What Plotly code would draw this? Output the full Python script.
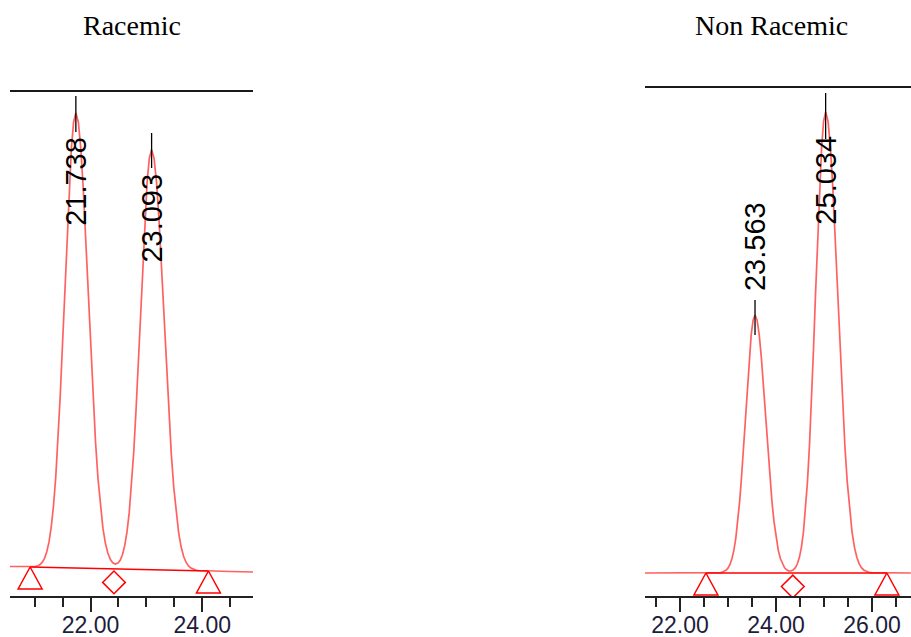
import plotly.graph_objects as go

W, H = 911, 637

# ---------------- data: Racemic ----------------
rac_t = [20.56, 20.75, 20.95, 21.018, 21.058, 21.098, 21.138, 21.178, 21.218, 21.258,
         21.298, 21.338, 21.378, 21.418, 21.458, 21.498, 21.538, 21.578, 21.618, 21.658,
         21.698, 21.738, 21.782, 21.826, 21.870, 21.914, 21.958, 22.002, 22.046, 22.090,
         22.134, 22.178, 22.222, 22.266, 22.310, 22.354, 22.398, 22.442, 22.493, 22.533,
         22.573, 22.613, 22.653, 22.693, 22.733, 22.773, 22.813, 22.853, 22.893, 22.933,
         22.973, 23.013, 23.053, 23.093, 23.137, 23.181, 23.225, 23.269, 23.313, 23.357,
         23.401, 23.445, 23.489, 23.533, 23.577, 23.621, 23.665, 23.709, 23.753, 23.797,
         23.841, 23.885, 23.930, 24.110, 24.500, 24.910]
rac_sig = [1.5, 1.3, 1.0, 1.6, 2.3, 3.5, 5.8, 9.7, 16.2, 26.1,
           41.0, 62.0, 90.5, 127.0, 171.5, 222.0, 276.0, 330.0, 380.0, 420.0,
           446.0, 455.0, 446.0, 420.0, 380.0, 329.8, 275.7, 221.3, 170.2, 126.0,
           89.5, 61.0, 39.8, 24.9, 15.0, 8.7, 5.2, 3.9, 5.0, 8.0,
           13.5, 22.6, 36.1, 55.6, 82.0, 115.5, 156.2, 203.1, 253.3, 303.4,
           349.2, 386.1, 410.0, 418.3, 409.8, 385.9, 348.8, 303.0, 252.7, 202.4,
           155.4, 114.6, 81.0, 54.5, 35.0, 21.2, 11.8, 5.8, 2.1, -0.1,
           -1.4, -2.1, -2.5, -3.0, -3.5, -4.0]
rac_peak_rt = [21.738, 23.093]
rac_peak_labels = ["21.738", "23.093"]
rac_tick_top = [472, 435]
rac_tick_bot = [436, 400]
rac_label_y = [387, 350]
rac_base_t = [20.92, 24.11]      # peak start / end markers
rac_base_y = [1.0, -3.0]
rac_valley_t = [22.42]           # drop line marker
rac_valley_y = [-0.9]

# ---------------- data: Non Racemic ----------------
non_t = [21.27, 22.54, 22.843, 22.883, 22.923, 22.963, 23.003, 23.043, 23.083, 23.123,
         23.163, 23.203, 23.243, 23.283, 23.323, 23.363, 23.403, 23.443, 23.483, 23.523,
         23.563, 23.607, 23.651, 23.695, 23.739, 23.783, 23.827, 23.871, 23.915, 23.959,
         24.003, 24.047, 24.091, 24.135, 24.179, 24.223, 24.267, 24.311, 24.355, 24.404,
         24.446, 24.488, 24.530, 24.572, 24.614, 24.656, 24.698, 24.740, 24.782, 24.824,
         24.866, 24.908, 24.950, 24.992, 25.034, 25.084, 25.134, 25.184, 25.234, 25.284,
         25.334, 25.384, 25.434, 25.484, 25.534, 25.584, 25.634, 25.684, 25.734, 25.784,
         25.834, 25.884, 25.934, 25.984, 26.31, 26.81]
non_sig = [0.0, 0.0, 0.4, 0.8, 1.5, 2.9, 5.1, 8.8, 14.5, 22.9,
           34.9, 51.1, 71.7, 96.8, 125.6, 156.5, 187.3, 215.4, 238.1, 252.8,
           258.0, 252.8, 238.1, 215.4, 187.3, 156.5, 125.6, 96.8, 71.7, 51.1,
           34.9, 22.9, 14.5, 8.8, 5.2, 3.2, 2.1, 2.0, 2.9, 5.3,
           9.2, 15.7, 25.9, 41.0, 62.4, 91.3, 128.2, 172.9, 224.5, 279.6,
           334.7, 384.9, 425.5, 451.8, 461.0, 451.8, 425.5, 384.9, 334.7, 279.6,
           224.5, 172.9, 128.2, 91.3, 62.4, 41.0, 25.9, 15.7, 9.1, 5.1,
           2.8, 1.4, 0.7, 0.3, 0.0, 0.0]
non_peak_rt = [23.563, 25.034]
non_peak_labels = ["23.563", "25.034"]
non_tick_top = [273, 480]
non_tick_bot = [238, 434]
non_label_y = [326, 393]
non_base_t = [22.54, 26.31]
non_base_y = [0.0, 0.0]
non_valley_t = [24.35]
non_valley_y = [0.0]

titles = ["Racemic", "Non Racemic"]

# ---------------- layout geometry ----------------
def px_x(p):
    return p / W

def px_y(p):
    return 1 - p / H

panels = [
    dict(xa="x", ya="y", dom=[px_x(10), px_x(253)], xr=[20.56, 24.907], yr=[-28, 488],
         t=rac_t, s=rac_sig, prt=rac_peak_rt, plab=rac_peak_labels, ptop=rac_tick_top,
         pbot=rac_tick_bot, ply=rac_label_y, bt=rac_base_t, by=rac_base_y,
         vt=rac_valley_t, vy=rac_valley_y, topline=91, title=titles[0], tx=131.5),
    dict(xa="x2", ya="y2", dom=[px_x(645), 1.0], xr=[21.271, 26.8125], yr=[-23, 493],
         t=non_t, s=non_sig, prt=non_peak_rt, plab=non_peak_labels, ptop=non_tick_top,
         pbot=non_tick_bot, ply=non_label_y, bt=non_base_t, by=non_base_y,
         vt=non_valley_t, vy=non_valley_y, topline=87, title=titles[1], tx=771),
]

ydom = [px_y(596), px_y(80)]
fig = go.Figure()
shapes = []
annotations = []

RED = "#ff0000"
TRI_HW_PX, TRI_H_PX = 12, 22

for p in panels:
    dom_px = (p["dom"][1] - p["dom"][0]) * W
    xppu = dom_px / (p["xr"][1] - p["xr"][0])   # pixels per minute
    yppu = (ydom[1] - ydom[0]) * H / (p["yr"][1] - p["yr"][0])

    # chromatogram trace
    fig.add_trace(go.Scatter(x=p["t"], y=p["s"], mode="lines", xaxis=p["xa"], yaxis=p["ya"],
                             line=dict(color="rgba(255,0,0,0.62)", width=1.7),
                             hoverinfo="skip"))
    # integration baseline between start/end markers
    fig.add_trace(go.Scatter(x=p["bt"], y=p["by"], mode="lines", xaxis=p["xa"], yaxis=p["ya"],
                             line=dict(color=RED, width=1.3), hoverinfo="skip"))
    # start / end triangles
    tx, ty = [], []
    hw = TRI_HW_PX / xppu
    hh = TRI_H_PX / yppu
    for bt, by in zip(p["bt"], p["by"]):
        tx += [bt, bt - hw, bt + hw, bt, None]
        ty += [by, by - hh, by - hh, by, None]
    fig.add_trace(go.Scatter(x=tx, y=ty, mode="lines", xaxis=p["xa"], yaxis=p["ya"],
                             line=dict(color=RED, width=1.5), hoverinfo="skip"))
    # valley diamond
    fig.add_trace(go.Scatter(x=p["vt"], y=[v - 13.5 / yppu for v in p["vy"]], mode="markers",
                             xaxis=p["xa"], yaxis=p["ya"],
                             marker=dict(symbol="diamond-open", size=17.5,
                                         line=dict(color=RED, width=1.5), color=RED),
                             hoverinfo="skip"))
    # peak ticks
    lx, ly = [], []
    for rt, a, b in zip(p["prt"], p["ptop"], p["pbot"]):
        lx += [rt, rt, None]
        ly += [a, b, None]
    fig.add_trace(go.Scatter(x=lx, y=ly, mode="lines", xaxis=p["xa"], yaxis=p["ya"],
                             line=dict(color="#000000", width=1.3), hoverinfo="skip"))
    # peak labels
    for rt, lab, yl in zip(p["prt"], p["plab"], p["ply"]):
        annotations.append(dict(x=rt, y=yl, xref=p["xa"], yref=p["ya"], text=lab,
                                showarrow=False, textangle=-90, xanchor="center",
                                yanchor="middle",
                                font=dict(family="Liberation Sans, Arial", size=29,
                                          color="#000000")))
    # top frame line
    shapes.append(dict(type="line", xref="paper", yref="paper",
                       x0=p["dom"][0], x1=p["dom"][1],
                       y0=px_y(p["topline"]), y1=px_y(p["topline"]),
                       line=dict(color="#1a1a1a", width=2)))
    # title
    annotations.append(dict(x=px_x(p["tx"]), y=px_y(25), xref="paper", yref="paper",
                            text=p["title"], showarrow=False, xanchor="center",
                            yanchor="middle",
                            font=dict(family="Liberation Serif, Times New Roman",
                                      size=28, color="#000000")))

axis_common = dict(showline=True, linecolor="#222222", linewidth=2, ticks="outside",
                   ticklen=14, tickwidth=2, tickcolor="#222222", dtick=2, tick0=0,
                   tickformat=".2f", showgrid=False, zeroline=False, automargin=False,
                   ticklabelstandoff=-7,
                   tickfont=dict(family="Liberation Sans, Arial", size=23, color="#1c1c3c"),
                   minor=dict(dtick=0.5, ticklen=9, tickwidth=2, tickcolor="#222222",
                              ticks="outside", showgrid=False),
                   fixedrange=True)
yaxis_common = dict(visible=False, showgrid=False, zeroline=False, fixedrange=True,
                    automargin=False)

fig.update_layout(
    width=W, height=H, margin=dict(l=0, r=0, t=0, b=0, autoexpand=False),
    paper_bgcolor="white", plot_bgcolor="white", showlegend=False,
    xaxis=dict(domain=panels[0]["dom"], range=panels[0]["xr"], anchor="y", **axis_common),
    yaxis=dict(domain=ydom, range=panels[0]["yr"], anchor="x", **yaxis_common),
    xaxis2=dict(domain=panels[1]["dom"], range=panels[1]["xr"], anchor="y2", **axis_common),
    yaxis2=dict(domain=ydom, range=panels[1]["yr"], anchor="x2", **yaxis_common),
    shapes=shapes, annotations=annotations,
)

fig.write_html("out.html")
